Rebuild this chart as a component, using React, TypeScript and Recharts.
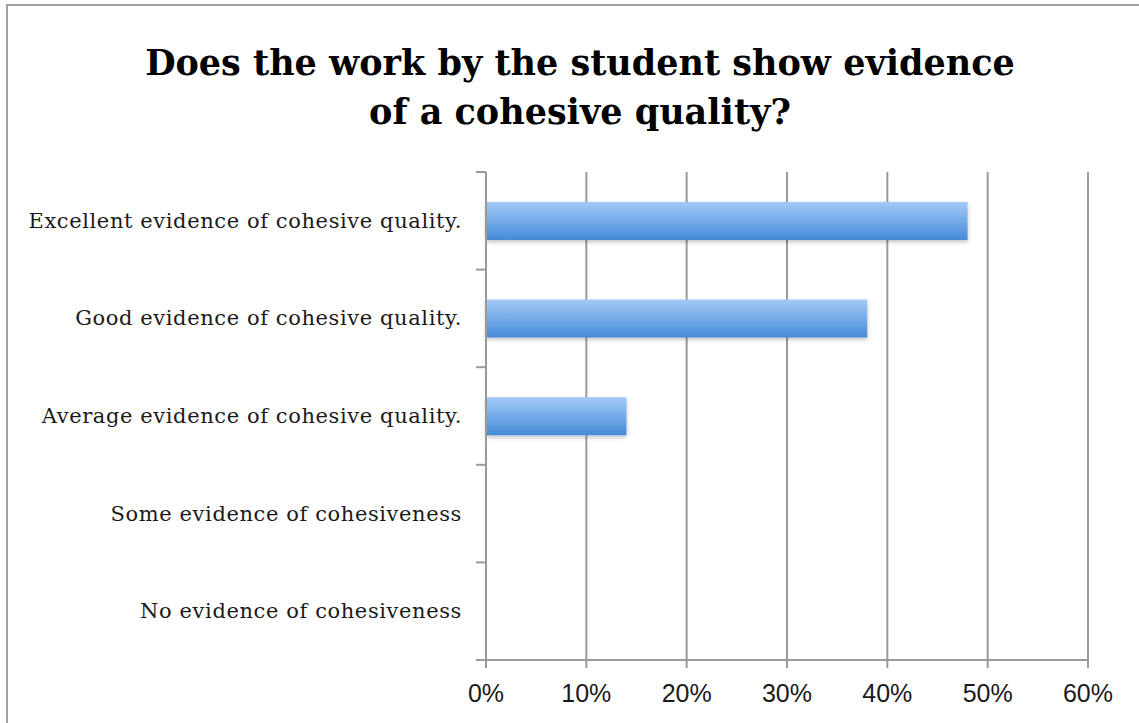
import React from 'react'
import { BarChart, Bar, XAxis, YAxis, CartesianGrid } from 'recharts'

// Survey categories, top to bottom
const categories = [
  'Excellent evidence of cohesive quality.',
  'Good evidence of cohesive quality.',
  'Average evidence of cohesive quality.',
  'Some evidence of cohesiveness',
  'No evidence of cohesiveness',
]

// Share of responses, in percent
const shares = [48, 38, 14, 0, 0]

const xTicks = [0, 10, 20, 30, 40, 50, 60]

const titleLines = ['Does the work by the student show evidence', 'of a cohesive quality?']

const data = categories.map((name, i) => ({ name, value: shares[i] }))

const W = 1139
const H = 723
const margin = { top: 172, right: 51, left: 0, bottom: 13 }
const yAxisWidth = 486
const xAxisHeight = 50
const band = (H - margin.top - margin.bottom - xAxisHeight) / categories.length
const gridColor = '#9a9a9a'

function CategoryTick(props: any) {
  const { y, payload, index } = props
  const axisX = yAxisWidth
  return (
    <g>
      <line x1={axisX - 10} x2={axisX} y1={y - band / 2} y2={y - band / 2} stroke={gridColor} strokeWidth={2} />
      {index === categories.length - 1 && (
        <line x1={axisX - 10} x2={axisX} y1={y + band / 2} y2={y + band / 2} stroke={gridColor} strokeWidth={2} />
      )}
      <text
        x={axisX - 24}
        y={y}
        dy={7}
        textAnchor="end"
        fill="#1a1a1a"
        style={{ fontFamily: '"DejaVu Serif", serif', fontSize: 21, letterSpacing: 0.6 }}
      >
        {payload.value}
      </text>
    </g>
  )
}

export default function App() {
  return (
    <div style={{ position: 'absolute', left: 0, top: 0, width: W, height: H, overflow: 'hidden', background: '#fff' }}>
      <div
        style={{
          position: 'absolute',
          left: 0,
          top: 38,
          width: 1160,
          textAlign: 'center',
          fontFamily: '"DejaVu Serif", serif',
          fontWeight: 'bold',
          fontSize: 35,
          lineHeight: '49px',
          color: '#000',
        }}
      >
        {titleLines.map((t) => (
          <div key={t}>{t}</div>
        ))}
      </div>
      <div style={{ position: 'absolute', left: 0, top: 0 }}>
        <BarChart width={W} height={H} data={data} layout="vertical" margin={margin}>
          <defs>
            <linearGradient id="barFill" x1="0" y1="0" x2="0" y2="1">
              <stop offset="0%" stopColor="#a3c9f7" />
              <stop offset="100%" stopColor="#458bd8" />
            </linearGradient>
            <filter id="barShadow" x="-5%" y="-20%" width="110%" height="160%">
              <feDropShadow dx="0" dy="2" stdDeviation="2" floodColor="#000" floodOpacity="0.25" />
            </filter>
          </defs>
          <CartesianGrid horizontal={false} stroke={gridColor} strokeWidth={2} />
          <XAxis
            type="number"
            domain={[0, 60]}
            ticks={xTicks}
            tickFormatter={(v) => `${v}%`}
            height={xAxisHeight}
            axisLine={{ stroke: gridColor, strokeWidth: 2 }}
            tickLine={{ stroke: gridColor, strokeWidth: 2 }}
            tickSize={8}
            tickMargin={16}
            tick={{ fill: '#1a1a1a', fontSize: 25, fontFamily: '"Liberation Sans", sans-serif' }}
          />
          <YAxis
            type="category"
            dataKey="name"
            width={yAxisWidth}
            axisLine={{ stroke: gridColor, strokeWidth: 2 }}
            tickLine={false}
            tick={<CategoryTick />}
            interval={0}
          />
          <Bar
            dataKey="value"
            barSize={38}
            fill="url(#barFill)"
            filter="url(#barShadow)"
            isAnimationActive={false}
          />
        </BarChart>
      </div>
      <div
        style={{
          position: 'absolute',
          left: 6,
          top: 4,
          width: 1300,
          height: 900,
          borderLeft: '2px solid #a0a0a0',
          borderTop: '2px solid #a0a0a0',
          pointerEvents: 'none',
        }}
      />
    </div>
  )
}
